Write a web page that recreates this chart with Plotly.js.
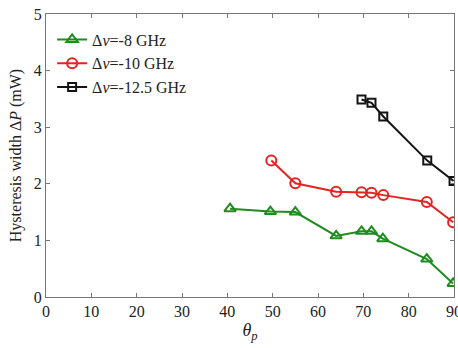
<!DOCTYPE html>
<html><head><meta charset="utf-8">
<script src="https://cdn.plot.ly/plotly-3.0.1.min.js"></script>
<style>html,body{margin:0;padding:0;background:#fff}#chart{width:458px;height:348px}</style>
</head><body><div id="chart"></div>
<script>
const seriesNames = ["Δ<i>ν</i>=-8 GHz", "Δ<i>ν</i>=-10 GHz", "Δ<i>ν</i>=-12.5 GHz"];
const x8 = [40.6, 49.5, 55, 64, 69.6, 71.8, 74.3, 84, 89.8];
const y8 = [1.56, 1.51, 1.50, 1.08, 1.16, 1.16, 1.03, 0.67, 0.24];
const x10 = [49.7, 55, 64, 69.6, 71.8, 74.4, 84, 89.8];
const y10 = [2.41, 2.01, 1.86, 1.85, 1.84, 1.80, 1.68, 1.32];
const x125 = [69.6, 71.8, 74.4, 84.1, 89.9];
const y125 = [3.49, 3.43, 3.19, 2.41, 2.05];
const xTicks = [0,10,20,30,40,50,60,70,80,90];
const yTicks = [0,1,2,3,4,5];

const SERIF = '"Liberation Serif", "Times New Roman", serif';
const traces = [
  {x:x8, y:y8, name:seriesNames[0], mode:'lines+markers',
   line:{color:'rgb(30,140,30)', width:2},
   marker:{symbol:'triangle-up-open', size:10, color:'rgb(30,140,30)', line:{width:2}}},
  {x:x10, y:y10, name:seriesNames[1], mode:'lines+markers',
   line:{color:'rgb(230,35,35)', width:2},
   marker:{symbol:'circle-open', size:10, color:'rgb(230,35,35)', line:{width:2}}},
  {x:x125, y:y125, name:seriesNames[2], mode:'lines+markers',
   line:{color:'rgb(20,20,20)', width:2},
   marker:{symbol:'square-open', size:8, color:'rgb(20,20,20)', line:{width:2}}}
];
function axis(extra){
  return Object.assign({showgrid:false, zeroline:false, showline:true, linecolor:'#777', linewidth:1,
    mirror:'ticks', ticks:'inside', ticklen:4, tickcolor:'#777', ticklabeloverflow:'allow',
    tickfont:{family:SERIF, size:16, color:'#222'}}, extra);
}
const layout = {
  width:458, height:348,
  margin:{l:46, r:4, t:14, b:51},
  paper_bgcolor:'#fff', plot_bgcolor:'#fff',
  font:{family:SERIF, color:'#222'},
  xaxis:axis({range:[0,90], tickvals:xTicks,
    title:{text:'<i>θ<sub>p</sub></i>', font:{family:SERIF, size:18, color:'#222'}, standoff:4}}),
  yaxis:axis({range:[0,5], tickvals:yTicks,
    title:{text:'Hysteresis width Δ<i>P</i> (mW)', font:{family:SERIF, size:16, color:'#222'}, standoff:8}}),
  showlegend:true,
  legend:{x:0.015, y:0.97, xanchor:'left', yanchor:'top', bgcolor:'rgba(0,0,0,0)',
    font:{family:SERIF, size:16, color:'#222'}, tracegroupgap:0}
};
Plotly.newPlot('chart', traces, layout, {displayModeBar:false, staticPlot:true});
</script></body></html>
